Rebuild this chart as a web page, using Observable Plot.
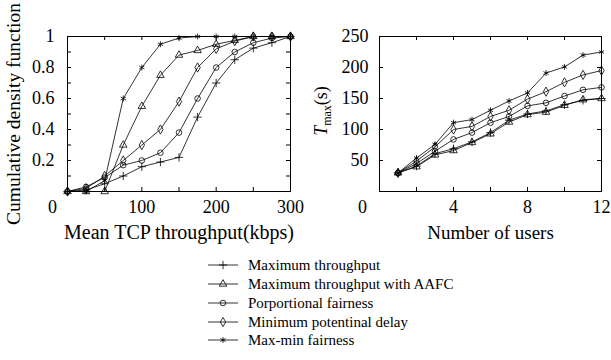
<!DOCTYPE html>
<html><head><meta charset="utf-8">
<script src="https://cdn.jsdelivr.net/npm/d3@7"></script>
<script src="https://cdn.jsdelivr.net/npm/@observablehq/plot@0.6"></script>
<style>
body{margin:0;background:#fff;}
#wrap{position:relative;width:611px;height:360px;background:#fff;font-family:'Liberation Serif','Times New Roman',serif;color:#000;overflow:hidden;}
.chart{position:absolute;top:0;}
.row{position:absolute;left:207px;height:19px;display:flex;align-items:center;font-size:15px;white-space:nowrap;}
.row svg{margin-right:9px;}
</style></head><body><div id="wrap"></div>
<script>
// ---------- data ----------
const seriesNames = ["Maximum throughput", "Maximum throughput with AAFC", "Porportional fairness", "Minimum potentinal delay", "Max-min fairness"];
const seriesSymbols = ["plus", "triangle", "circle", "diamond", "asterisk"];

// Left panel: CDF of mean TCP throughput
const throughputX = [0, 25, 50, 75, 100, 125, 150, 175, 200, 225, 250, 275, 300];
const cdfMaxThroughput = [0, 0.01, 0.05, 0.10, 0.16, 0.19, 0.22, 0.48, 0.70, 0.85, 0.925, 0.96, 1];
const cdfAAFC          = [0, 0, 0, 0.30, 0.55, 0.75, 0.88, 0.91, 0.95, 0.975, 1, 1, 1];
const cdfPF            = [0, 0.03, 0.09, 0.17, 0.20, 0.25, 0.38, 0.60, 0.80, 0.90, 0.96, 0.99, 1];
const cdfMPD           = [0, 0.02, 0.10, 0.20, 0.30, 0.40, 0.58, 0.80, 0.92, 0.97, 1, 1, 1];
const cdfMaxMin        = [0, 0, 0.07, 0.60, 0.80, 0.95, 0.99, 1, 1, 1, 1, 1, 1];

// Right panel: T_max vs number of users
const usersX = [1, 2, 3, 4, 5, 6, 7, 8, 9, 10, 11, 12];
const tMaxThroughput = [30, 41, 61, 69, 80, 95, 115, 125, 130, 140, 147, 150];
const tAAFC          = [30, 40, 59, 66, 79, 93, 112, 124, 128, 139, 148, 150];
const tPF            = [30, 45, 65, 84, 95, 111, 121, 138, 143, 154, 164, 168];
const tMPD           = [30, 49, 72, 100, 105, 121, 131, 149, 161, 176, 188, 195];
const tMaxMin        = [30, 54, 76, 111, 116, 131, 146, 159, 191, 201, 220, 225];

const leftTickLabels = [100, 200, 300];
const leftYTickLabels = [0.2, 0.4, 0.6, 0.8, 1];
const rightTickLabels = [4, 8, 12];
const rightYTickLabels = [50, 100, 150, 200, 250];

// ---------- build tables ----------
const cdfSeries = [cdfMaxThroughput, cdfAAFC, cdfPF, cdfMPD, cdfMaxMin];
const tSeries = [tMaxThroughput, tAAFC, tPF, tMPD, tMaxMin];
const cdfRows = cdfSeries.flatMap((ys, i) => ys.map((y, j) => ({series: seriesNames[i], x: throughputX[j], y})));
const tRows = tSeries.flatMap((ys, i) => ys.map((y, j) => ({series: seriesNames[i], x: usersX[j], y})));

const font = "'Liberation Serif','Times New Roman',serif";
const symbolScale = {domain: seriesNames, range: seriesSymbols, legend: false};

function inward(xt, yt, xd, yd, iw, ih, len = 4) {
  const lx = (xd[1] - xd[0]) * len / iw, ly = (yd[1] - yd[0]) * len / ih;
  return [
    Plot.ruleX(xt, {x: d => d, y1: yd[0], y2: yd[0] + ly, stroke: "black"}),
    Plot.ruleX(xt, {x: d => d, y1: yd[1], y2: yd[1] - ly, stroke: "black"}),
    Plot.ruleY(yt, {y: d => d, x1: xd[0], x2: xd[0] + lx, stroke: "black"}),
    Plot.ruleY(yt, {y: d => d, x1: xd[1], x2: xd[1] - lx, stroke: "black"})
  ];
}

function panel(rows, o) {
  const marks = [
    Plot.frame({stroke: "black"}),
    ...inward(o.xticks, o.yticks, o.xd, o.yd, o.width - o.ml - o.mr, 245 - 36 - 54),
    Plot.axisY({ticks: o.ylabels, tickSize: 0, tickPadding: o.ypad, tickFormat: d => String(d), fontSize: 18, label: null}),
    Plot.axisX({ticks: o.xlabels, tickSize: 0, tickPadding: 9, fontSize: 18, label: null}),
    Plot.axisX({ticks: [0], tickSize: 0, tickPadding: 9, dx: o.zeroDx, fontSize: 18, label: null}),
    Plot.axisX({ticks: [], tickSize: 0, fontSize: o.xlabelSize, dx: o.xlabelDx,
      label: o.xlabel, labelAnchor: "center", labelOffset: 47, labelArrow: "none"}),
    Plot.line(rows, {x: "x", y: "y", z: "series", stroke: "black", strokeWidth: 0.8}),
    Plot.dot(rows, {x: "x", y: "y", symbol: "series", stroke: "black", fill: "none", r: 2.8, strokeWidth: 0.8})
  ];
  if (o.ylabel) marks.push(Plot.axisY({ticks: [], tickSize: 0, fontSize: 19.5,
    label: o.ylabel, labelAnchor: "center", labelOffset: o.ylabelOffset, labelArrow: "none"}));
  return Plot.plot({
    width: o.width, height: 245,
    marginLeft: o.ml, marginRight: o.mr, marginTop: 36, marginBottom: 54,
    style: {fontFamily: font, fontSize: "18px", background: "white", color: "black", overflow: "visible"},
    x: {domain: o.xd},
    y: {domain: o.yd},
    symbol: symbolScale,
    marks
  });
}

const wrap = document.getElementById("wrap");

const c1 = panel(cdfRows, {width: 305, ml: 67, mr: 15, xd: [0, 300], yd: [0, 1],
  xticks: [50, 100, 150, 200, 250], yticks: [0.1, 0.2, 0.3, 0.4, 0.5, 0.6, 0.7, 0.8, 0.9],
  xlabels: leftTickLabels, ylabels: leftYTickLabels, ypad: 13, zeroDx: -15, xlabelDx: 6, xlabelSize: 20,
  xlabel: "Mean TCP throughput(kbps)", ylabel: "Cumulative density function", ylabelOffset: 61});
c1.classList.add("chart"); c1.style.left = "0px";
wrap.appendChild(c1);

const c2 = panel(tRows, {width: 306, ml: 74, mr: 10, xd: [0, 12], yd: [0, 250],
  xticks: [2, 4, 6, 8, 10], yticks: [50, 100, 150, 200],
  xlabels: rightTickLabels, ylabels: rightYTickLabels, ypad: 11, zeroDx: -17, xlabelDx: 4, xlabelSize: 19,
  xlabel: "Number of users", ylabel: null, ylabelOffset: 60});
c2.classList.add("chart"); c2.style.left = "305px";
wrap.appendChild(c2);

// y label with italic T and subscript
const tl = d3.select(c2).append("text")
  .attr("transform", "translate(22,111) rotate(-90)")
  .attr("text-anchor", "middle")
  .attr("font-family", font).attr("font-size", 18).attr("fill", "black");
tl.append("tspan").attr("font-style", "italic").text("T");
tl.append("tspan").attr("font-size", 12).attr("dy", 4).text("max");
tl.append("tspan").attr("dy", -4).text("(s)");

// legend
const symGen = {plus: d3.symbolPlus, triangle: d3.symbolTriangle, circle: d3.symbolCircle, diamond: d3.symbolDiamond, asterisk: d3.symbolAsterisk};
const rowCenters = [265, 284, 303, 322, 340];
seriesNames.forEach((name, i) => {
  const row = document.createElement("div");
  row.className = "row";
  row.style.top = (rowCenters[i] - 9.5) + "px";
  const s = d3.create("svg").attr("width", 32).attr("height", 14);
  s.append("line").attr("x1", 1).attr("x2", 31).attr("y1", 7).attr("y2", 7).attr("stroke", "black").attr("stroke-width", 0.8);
  s.append("path").attr("transform", "translate(16,7)")
    .attr("d", d3.symbol(symGen[seriesSymbols[i]], 2.8 * 2.8 * Math.PI)())
    .attr("fill", "none").attr("stroke", "black").attr("stroke-width", 0.8);
  row.appendChild(s.node());
  const t = document.createElement("span");
  t.textContent = name;
  row.appendChild(t);
  wrap.appendChild(row);
});
</script></body></html>
